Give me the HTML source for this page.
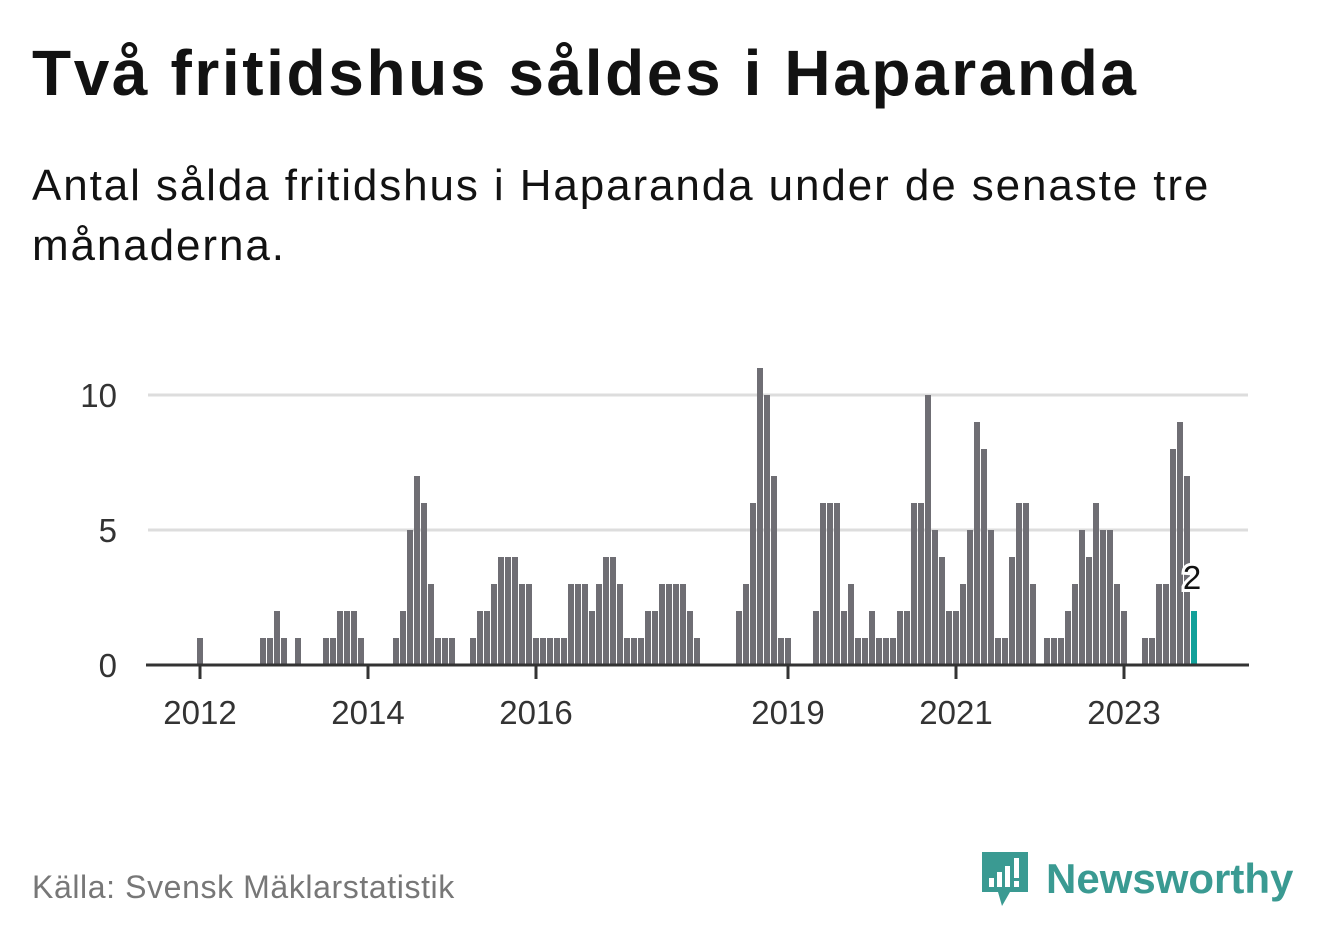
<!DOCTYPE html>
<html><head><meta charset="utf-8">
<style>
body{margin:0;background:#fff;width:1322px;height:939px;overflow:hidden;font-family:"Liberation Sans","DejaVu Sans",sans-serif;}
#title{position:absolute;left:32px;top:36px;font-size:64px;font-weight:bold;color:#121212;margin:0;letter-spacing:2.6px}
#sub{position:absolute;left:32px;top:156px;font-size:44px;color:#121212;line-height:60px;width:1240px;letter-spacing:1.9px}
#src{position:absolute;left:32px;top:869px;font-size:32px;color:#777;letter-spacing:0.6px}
#logo{position:absolute;left:980px;top:850px;display:flex;align-items:center}
#logo span{font-size:42px;color:#3a9a92;font-weight:bold;margin-left:16px}
</style></head><body>
<h1 id="title">Två fritidshus såldes i Haparanda</h1>
<div id="sub">Antal sålda fritidshus i Haparanda under de senaste tre månaderna.</div>
<svg id="chart" width="1322" height="939" style="position:absolute;left:0;top:0"></svg>
<div id="src">Källa: Svensk Mäklarstatistik</div>
<div id="logo">
<svg width="50" height="58"><path d="M2 2h46v40H30l-8 14-4-14H2z" fill="#3a9a92"/><rect x="9" y="28" width="5" height="9" fill="#fff"/><rect x="17" y="22" width="5" height="15" fill="#fff"/><rect x="25" y="16" width="5" height="21" fill="#fff"/><rect x="34" y="8" width="5" height="20" fill="#fff"/><rect x="34" y="31" width="5" height="6" fill="#fff"/></svg>
<span>Newsworthy</span></div>
<script>
const values=[1,0,0,0,0,0,0,0,0,1,1,2,1,0,1,0,0,0,1,1,2,2,2,1,0,0,0,0,1,2,5,7,6,3,1,1,1,0,0,1,2,2,3,4,4,4,3,3,1,1,1,1,1,3,3,3,2,3,4,4,3,1,1,1,2,2,3,3,3,3,2,1,0,0,0,0,0,2,3,6,11,10,7,1,1,0,0,0,2,6,6,6,2,3,1,1,2,1,1,1,2,2,6,6,10,5,4,2,2,3,5,9,8,5,1,1,4,6,6,3,0,1,1,1,2,3,5,4,6,5,5,3,2,0,0,1,1,3,3,8,9,7,2];
const tickYears=["2012","2014","2016","2019","2021","2023"];
const tickMonths=[0,24,48,84,108,132];
const yTicks=[0,5,10];
const NS="http://www.w3.org/2000/svg";
const svg=document.getElementById('chart');
const x=m=>200+7*m;
const y=v=>665-27*v;
function mk(t,a){const e=document.createElementNS(NS,t);for(const k in a)e.setAttribute(k,a[k]);svg.appendChild(e);return e;}
yTicks.forEach(v=>{
 if(v>0){const g=mk('line',{x1:148,x2:1248,y1:y(v),y2:y(v),stroke:'#ddd','stroke-width':3});
 
 }
 const t=mk('text',{x:117,y:y(v)+12,'text-anchor':'end','font-size':33,fill:'#333'});t.textContent=v;
 
 
});
values.forEach((v,i)=>{
 if(v<=0)return;
 const last=i===values.length-1;
 const r=mk('rect',{x:x(i)-3,y:y(v),width:6,height:665-y(v),fill:last?'#12a19a':'#6f6e74'});
 
 
});
const ax=mk('line',{x1:146,x2:1249,y1:665,y2:665,stroke:'#333','stroke-width':3});


tickMonths.forEach((m,i)=>{
 const tk=mk('line',{x1:x(m),x2:x(m),y1:665,y2:679,stroke:'#333','stroke-width':3});
 
 
 const t=mk('text',{x:x(m),y:724,'text-anchor':'middle','font-size':33,fill:'#333'});t.textContent=tickYears[i];
 
 
});
const li=values.length-1;
const lb=mk('text',{x:x(li)-2,y:y(values[li])-22,'text-anchor':'middle','font-size':33,fill:'#121212',stroke:'#fff','stroke-width':6,'paint-order':'stroke'});
lb.textContent=values[li];


</script>
</body></html>
